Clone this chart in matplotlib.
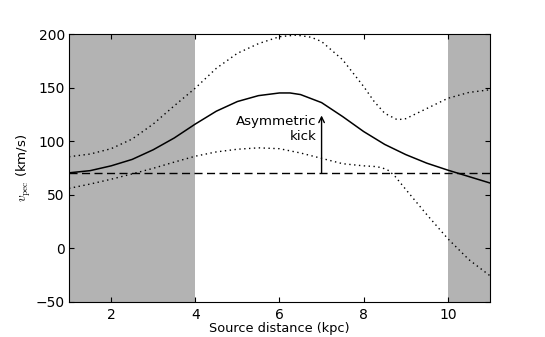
import numpy as np
import matplotlib.pyplot as plt

plt.rcParams['mathtext.fontset'] = 'cm'

# source distance (kpc) and peculiar velocity (km/s)
dist = [1.0, 1.5, 2.0, 2.5, 3.0, 3.5, 4.0, 4.5, 5.0, 5.5, 6.0, 6.25, 6.5,
        7.0, 7.5, 8.0, 8.5, 9.0, 9.5, 10.0, 10.5, 11.0]
v_mid = [70.5, 72.5, 77, 83, 92, 103, 116, 128, 137, 142.5, 145, 145, 143.5,
         136, 123, 109, 97, 87.5, 79.5, 73, 67, 61]

dist_hi = [1.0, 1.5, 2.0, 2.5, 3.0, 3.5, 4.0, 4.5, 5.0, 5.5, 6.0, 6.4,
           6.75, 7.0, 7.5, 8.0, 8.25, 8.5, 8.8, 9.0, 9.5, 10.0, 10.5, 11.0]
v_hi = [85.5, 88, 93, 102, 116, 133, 149.5, 168, 182, 191, 197.5, 199,
        197, 193, 176, 151, 137, 126, 120, 121, 130.5, 140, 145.5, 148]

dist_lo = [1.0, 1.5, 2.0, 2.5, 3.0, 3.5, 4.0, 4.5, 5.0, 5.5, 6.0, 6.5,
           7.0, 7.5, 8.0, 8.3, 8.45, 8.6, 8.75, 9.0, 9.5, 10.0, 10.5, 11.0]
v_lo = [56, 60, 64.5, 69.5, 74.7, 80.5, 86, 90, 92.5, 93.8, 93, 89,
        84, 79, 77, 76.3, 75, 72.5, 67, 55, 31.5, 9, -10.5, -25.5]

v_circ = 70
excluded = [(1, 4), (10, 11)]

fig = plt.figure(figsize=(5.45, 3.37), dpi=100)
ax = fig.add_axes([0.1266, 0.1039, 0.7724, 0.7952])

for lo, hi in excluded:
    ax.axvspan(lo, hi, color='#b3b3b3', lw=0)

ax.plot(dist, v_mid, color='k', lw=1.1)
ax.plot(dist_hi, v_hi, color='k', lw=1.0, ls=(0, (1, 2.5)))
ax.plot(dist_lo, v_lo, color='k', lw=1.0, ls=(0, (1, 2.5)))
ax.axhline(v_circ, color='k', lw=1.0, ls=(0, (5.8, 3.2)))

# kick arrow and its label
ax.annotate('', xy=(7, 124), xytext=(7, 70),
            arrowprops=dict(arrowstyle='->', color='k', lw=1.0,
                            shrinkA=0, shrinkB=0))
ax.text(6.88, 98, 'Asymmetric\nkick', ha='right', va='bottom',
        multialignment='right', fontsize=9.6)

ax.set_xlim(1, 11)
ax.set_ylim(-50, 200)
ax.set_xticks([2, 4, 6, 8, 10])
ax.set_yticks([-50, 0, 50, 100, 150, 200])
ax.tick_params(direction='in', top=True, right=True, labelsize=10)
ax.tick_params(axis='y', pad=3)
ax.tick_params(axis='x', pad=4)
ax.set_xlabel('Source distance (kpc)', fontsize=9.3, labelpad=0.5)
ax.set_ylabel(r'$v_{\rm pec}$ (km/s)', fontsize=9.6, labelpad=2)

fig.savefig('out.png', dpi=100)
